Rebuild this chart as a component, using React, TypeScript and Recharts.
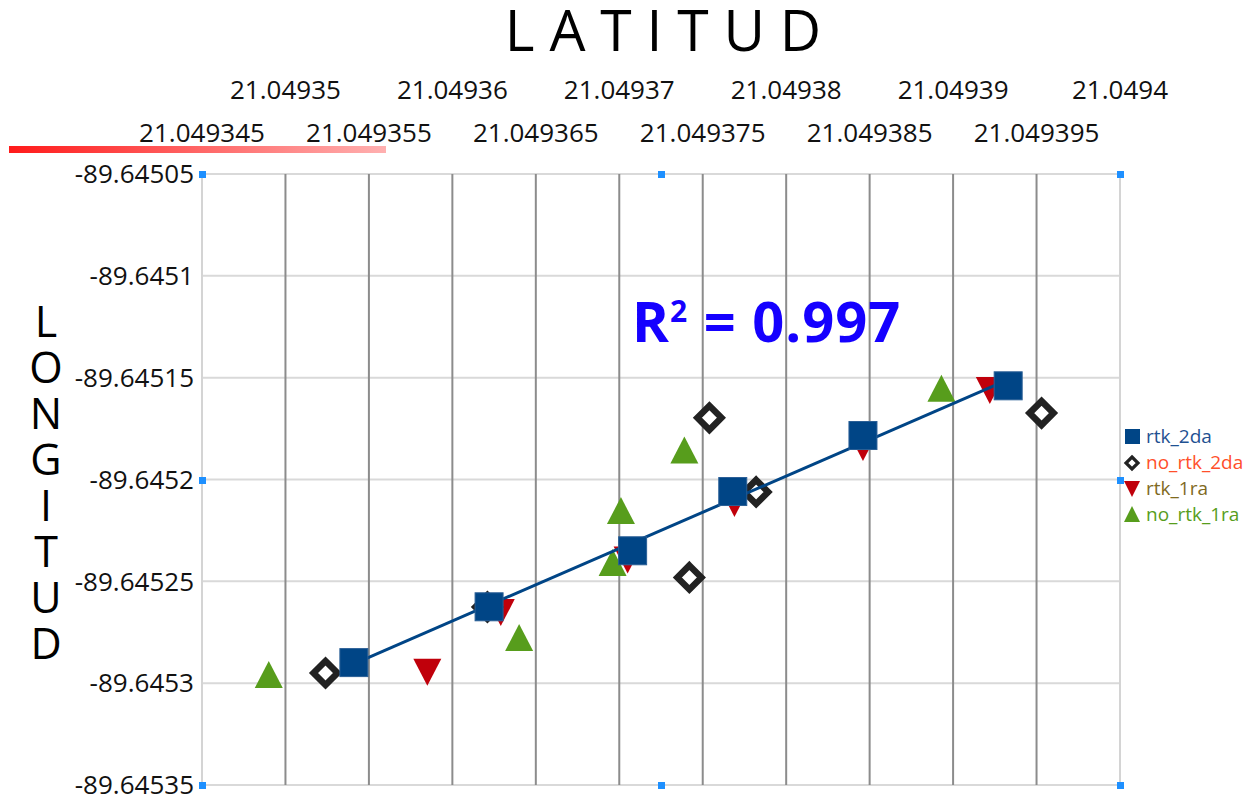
import React from 'react';
import {
  ScatterChart,
  Scatter,
  XAxis,
  YAxis,
  CartesianGrid,
  ReferenceLine,
  Legend,
} from 'recharts';

// axis ticks
const latTicks = [
  21.049345, 21.04935, 21.049355, 21.04936, 21.049365, 21.04937,
  21.049375, 21.04938, 21.049385, 21.04939, 21.049395, 21.0494,
];
const lonTicks = [-89.64505, -89.6451, -89.64515, -89.6452, -89.64525, -89.6453, -89.64535];

// series values (latitude, longitude)
const rtk2daLat = [21.0493541, 21.0493622, 21.0493708, 21.0493768, 21.0493846, 21.0493933];
const rtk2daLon = [-89.6452899, -89.6452625, -89.645235, -89.6452059, -89.6451784, -89.645154];

const noRtk2daLat = [21.0493524, 21.0493621, 21.0493742, 21.0493754, 21.0493782, 21.0493953];
const noRtk2daLon = [-89.645295, -89.6452626, -89.6452481, -89.6451697, -89.6452061, -89.6451674];

const rtk1raLat = [21.0493585, 21.0493629, 21.0493705, 21.0493769, 21.0493846, 21.0493922];
const rtk1raLon = [-89.6452944, -89.6452651, -89.6452393, -89.6452115, -89.645184, -89.6451561];

const noRtk1raLat = [21.049349, 21.049364, 21.0493696, 21.0493701, 21.0493739, 21.0493893];
const noRtk1raLon = [-89.645296, -89.6452778, -89.645241, -89.6452155, -89.6451857, -89.6451554];

const toPoints = (lat: number[], lon: number[]) => lat.map((v, i) => ({ lat: v, lon: lon[i] }));

const rtk2da = toPoints(rtk2daLat, rtk2daLon);
const noRtk2da = toPoints(noRtk2daLat, noRtk2daLon);
const rtk1ra = toPoints(rtk1raLat, rtk1raLon);
const noRtk1ra = toPoints(noRtk1raLat, noRtk1raLon);

// least squares fit on rtk_2da
const fitLine = (pts: { lat: number; lon: number }[]) => {
  const n = pts.length;
  const mx = pts.reduce((s, p) => s + p.lat, 0) / n;
  const my = pts.reduce((s, p) => s + p.lon, 0) / n;
  let sxy = 0;
  let sxx = 0;
  pts.forEach((p) => {
    sxy += (p.lat - mx) * (p.lon - my);
    sxx += (p.lat - mx) * (p.lat - mx);
  });
  const k = sxy / sxx;
  const xs = pts.map((p) => p.lat);
  const x0 = Math.min(...xs);
  const x1 = Math.max(...xs);
  return [
    { lat: x0, lon: my + k * (x0 - mx) },
    { lat: x1, lon: my + k * (x1 - mx) },
  ];
};
const trend = fitLine(rtk2da);

const BLUE = '#004586';
const RED = '#c0000b';
const GREEN = '#579d1c';
const FONT = '"Open Sans", "Noto Sans", sans-serif';

const PLOT_TOP = 174;

const Square = ({ cx, cy }: any) => (
  <rect x={cx - 14} y={cy - 14} width={28} height={28} fill={BLUE} stroke="#2a5f96" strokeWidth={1} />
);
const Diamond = ({ cx, cy }: any) => (
  <path
    d={`M${cx},${cy - 12} L${cx + 12},${cy} L${cx},${cy + 12} L${cx - 12},${cy} Z`}
    fill="#fff"
    stroke="#222"
    strokeWidth={6.5}
  />
);
const DownTri = ({ cx, cy }: any) => (
  <path d={`M${cx - 14},${cy - 13} L${cx + 14},${cy - 13} L${cx},${cy + 14} Z`} fill={RED} />
);
const UpTri = ({ cx, cy }: any) => (
  <path d={`M${cx - 14},${cy + 13} L${cx + 14},${cy + 13} L${cx},${cy - 14} Z`} fill={GREEN} />
);
const NoShape = () => <g />;

const LatTick = (props: any) => {
  const { x, payload, index } = props;
  const low = index % 2 === 0;
  return (
    <text
      x={x}
      y={low ? PLOT_TOP - 32 : PLOT_TOP - 75}
      textAnchor="middle"
      fontSize={26}
      fill="#111"
      fontFamily={FONT}
    >
      {String(payload.value)}
    </text>
  );
};

const legendItems = [
  { name: 'rtk_2da', color: '#1f5192', mark: 'square' },
  { name: 'no_rtk_2da', color: '#ff4f2b', mark: 'diamond' },
  { name: 'rtk_1ra', color: '#7f6a1e', mark: 'down' },
  { name: 'no_rtk_1ra', color: '#579d1c', mark: 'up' },
];

const LegendMark = ({ mark }: { mark: string }) => (
  <svg width={19} height={19} style={{ display: 'block' }}>
    {mark === 'square' && <rect x={3} y={2} width={15} height={15} fill={BLUE} />}
    {mark === 'diamond' && (
      <path d="M10,4 L16,10 L10,16 L4,10 Z" fill="#fff" stroke="#222" strokeWidth={3.2} />
    )}
    {mark === 'down' && <path d="M2,2 L18,2 L10,18 Z" fill={RED} />}
    {mark === 'up' && <path d="M2,17 L18,17 L10,1 Z" fill={GREEN} />}
  </svg>
);

const LegendBox = () => (
  <div style={{ fontFamily: FONT, fontSize: 19 }}>
    {legendItems.map((it) => (
      <div key={it.name} style={{ display: 'flex', alignItems: 'center', height: 26 }}>
        <LegendMark mark={it.mark} />
        <span style={{ color: it.color, marginLeft: 5 }}>{it.name}</span>
      </div>
    ))}
  </div>
);

const longitudLetters = ['L', 'O', 'N', 'G', 'I', 'T', 'U', 'D'];
const handles = [
  [202, 174], [661, 174], [1120, 174],
  [202, 480], [1120, 480],
  [202, 785], [661, 785], [1120, 785],
];

export default function App() {
  return (
    <div
      style={{
        position: 'absolute',
        left: 0,
        top: 0,
        width: 1255,
        height: 799,
        background: '#fff',
        fontFamily: FONT,
      }}
    >
      <ScatterChart width={1255} height={799} margin={{ top: 74, right: 135, bottom: 14, left: 12 }}>
        <CartesianGrid vertical={false} stroke="#d9d9d9" strokeWidth={2} />
        <XAxis
          type="number"
          dataKey="lat"
          orientation="top"
          height={100}
          domain={[21.049345, 21.0494]}
          ticks={latTicks}
          allowDataOverflow
          axisLine={false}
          tickLine={false}
          interval={0}
          tick={<LatTick />}
        />
        <YAxis
          type="number"
          dataKey="lon"
          width={190}
          domain={[-89.64535, -89.64505]}
          ticks={lonTicks}
          allowDataOverflow
          axisLine={false}
          tickLine={false}
          interval={0}
          tick={{ fontSize: 26, fill: '#111', fontFamily: FONT }}
          tickFormatter={(v: number) => String(v)}
        />
        <ReferenceLine x={latTicks[0]} stroke="#d4d4d4" strokeWidth={2} />
        <ReferenceLine x={latTicks[latTicks.length - 1]} stroke="#d4d4d4" strokeWidth={2} />
        {latTicks.slice(1, -1).map((v) => (
          <ReferenceLine key={v} x={v} stroke="#8c8c8c" strokeWidth={2} />
        ))}
        <Legend
          layout="horizontal"
          verticalAlign="middle"
          align="center"
          content={() => <LegendBox />}
          wrapperStyle={{ position: 'absolute', left: 1122, top: 423, width: 133 }}
        />
        <Scatter name="no_rtk_1ra" data={noRtk1ra} shape={<UpTri />} isAnimationActive={false} />
        <Scatter name="rtk_1ra" data={rtk1ra} shape={<DownTri />} isAnimationActive={false} />
        <Scatter name="no_rtk_2da" data={noRtk2da} shape={<Diamond />} isAnimationActive={false} />
        <Scatter
          name="trend"
          data={trend}
          line={{ stroke: BLUE, strokeWidth: 3 }}
          shape={<NoShape />}
          legendType="none"
          isAnimationActive={false}
        />
        <Scatter name="rtk_2da" data={rtk2da} shape={<Square />} isAnimationActive={false} />
      </ScatterChart>

      <svg
        width={1255}
        height={799}
        style={{ position: 'absolute', left: 0, top: 0, pointerEvents: 'none' }}
      >
        <defs>
          <linearGradient id="redbar" x1="0" x2="1" y1="0" y2="0">
            <stop offset="0%" stopColor="#ff1a1a" />
            <stop offset="100%" stopColor="#ffb0b0" />
          </linearGradient>
        </defs>
        <text x={663} y={51} textAnchor="middle" fontSize={57} fill="#000" fontFamily={FONT}>
          L A T I T U D
        </text>
        {longitudLetters.map((c, i) => (
          <text
            key={i}
            x={46}
            y={337 + i * 46}
            textAnchor="middle"
            fontSize={43}
            fill="#000"
            fontFamily={FONT}
          >
            {c}
          </text>
        ))}
        <rect x={9} y={146} width={377} height={7} fill="url(#redbar)" />
        <text
          x={632}
          y={342}
          fontSize={56}
          fontWeight="bold"
          fill="#1500ff"
          fontFamily={FONT}
          letterSpacing={1}
        >
          R
          <tspan fontSize={30} dy={-20}>2</tspan>
          <tspan dy={20}>{'\u00a0= 0.997'}</tspan>
        </text>
        {handles.map(([hx, hy], i) => (
          <rect key={i} x={hx - 3} y={hy - 3} width={7} height={7} fill="#1e90ff" />
        ))}
      </svg>
    </div>
  );
}
